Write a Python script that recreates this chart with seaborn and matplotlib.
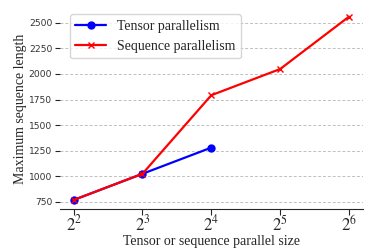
import pandas as pd
import matplotlib
matplotlib.use("Agg")
import matplotlib.pyplot as plt
import seaborn as sns

# parallel sizes (x) and max sequence length for each method
tensor_sizes = [4, 8, 16]
tensor_lengths = [768, 1024, 1280]
seq_sizes = [4, 8, 16, 32, 64]
seq_lengths = [768, 1024, 1792, 2048, 2560]
x_ticks = [4, 8, 16, 32, 64]
x_tick_labels = [r"$2^{2}$", r"$2^{3}$", r"$2^{4}$", r"$2^{5}$", r"$2^{6}$"]

df = pd.concat([
    pd.DataFrame({"size": tensor_sizes, "length": tensor_lengths, "method": "Tensor parallelism"}),
    pd.DataFrame({"size": seq_sizes, "length": seq_lengths, "method": "Sequence parallelism"}),
])

sns.set_style("ticks")
plt.rcParams["mathtext.fontset"] = "stix"
serif = "Liberation Serif"

fig = plt.figure(figsize=(3.74, 2.49), dpi=100)
ax = fig.add_axes([0.16, 0.16, 0.81, 0.81])

sns.lineplot(data=df, x="size", y="length", hue="method", style="method",
             markers={"Tensor parallelism": "o", "Sequence parallelism": "X"},
             dashes=False, palette={"Tensor parallelism": "blue", "Sequence parallelism": "red"},
             linewidth=1.6, ax=ax)


def fix_marker(line):
    # seaborn draws white marker edges; the reference uses solid markers
    c = line.get_color()
    if c == "red":
        line.set_marker("x")
    line.set_markersize(5)
    line.set_markeredgecolor(c)
    line.set_markerfacecolor(c)
    line.set_markeredgewidth(1)


for line in ax.get_lines():
    fix_marker(line)

ax.set_xscale("log", base=2)
ax.set_xticks(x_ticks)
ax.set_xticklabels(x_tick_labels, fontsize=12, family=serif)
ax.minorticks_off()
ax.set_yticks([750, 1000, 1250, 1500, 1750, 2000, 2250, 2500])
ax.tick_params(axis="y", labelsize=6.6, length=3.5, pad=2, labelcolor="#333333")
ax.tick_params(axis="x", length=4, pad=0)
ax.yaxis.grid(True, linestyle=(0, (3, 2)), color="#c0c0c0", linewidth=0.7)
sns.despine(ax=ax, left=True)

ax.set_xlabel("Tensor or sequence parallel size", fontsize=10, family=serif, labelpad=0)
ax.set_ylabel("Maximum sequence length", fontsize=10, family=serif, labelpad=1)

handles, labels = ax.get_legend_handles_labels()
for h in handles:
    fix_marker(h)
ax.legend(handles, labels, loc="upper left", prop={"family": serif, "size": 10},
          frameon=True, handlelength=2.2, bbox_to_anchor=(0.01, 1.0))

fig.savefig("out.png", dpi=100)
